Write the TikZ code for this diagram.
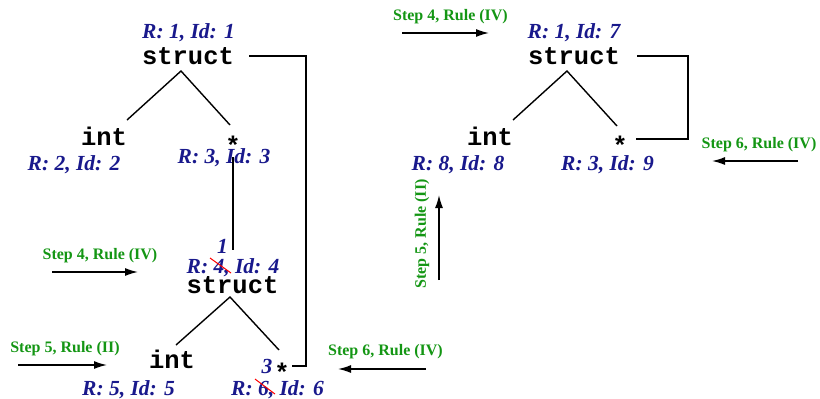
\documentclass[tikz,border=0pt]{standalone}
\usepackage{fontspec}
\setmainfont{Liberation Serif}
\newfontfamily\cour{Liberation Mono}
\usetikzlibrary{arrows.meta}
\definecolor{myblue}{RGB}{25,25,140}
\definecolor{mygreen}{RGB}{20,150,20}
\tikzset{
  lab/.style={font=\fontsize{21.5}{22}\selectfont\bfseries\itshape, text=myblue, anchor=base, inner sep=0},
  ty/.style={font=\cour\fontsize{25.5}{26}\selectfont\bfseries, anchor=base, inner sep=0},
  gr/.style={font=\fontsize{16}{17}\selectfont\bfseries, text=mygreen, anchor=base, inner sep=0},
  edge/.style={line width=1.4pt},
  stepar/.style={line width=1.5pt, -{Latex[length=13pt,width=8pt]}},
  strike/.style={red, line width=1pt}
}
\begin{document}
\begin{tikzpicture}[x=1pt,y=-1pt]
\useasboundingbox (0,0) rectangle (820,399);
% ---- left tree
\node[lab] (l1) at (188.5,38) {R: 1, Id: 1};
\node[ty] (s1) at (188,64) {struct};
\node[ty] (i1) at (104,145) {int};
\node[lab] (l2) at (74,170) {R: 2, Id: 2};
\node[ty] (p1) at (233,154) {*};
\node[lab] (l3) at (224,163) {R: 3, Id: 3};
\coordinate (a1) at (181,71);
\coordinate (e1) at (127,120);
\coordinate (e2) at (230,125);
\draw[edge] (e1) -- (a1) -- (e2);
\coordinate (v1) at (233,157);
\coordinate (v2) at (233,250);
\draw[edge] (v1) -- (v2);
\node[lab] (n1) at (222.5,253) {1};
\node[lab] (l4) at (233,273) {R: 4, Id: 4};
\coordinate (r1a) at (210,258);
\coordinate (r1b) at (231,273);
\draw[strike] (r1a) -- (r1b);
\node[ty] (s2) at (232.5,293) {struct};
\coordinate (a2) at (230,297);
\coordinate (e3) at (176,345);
\coordinate (e4) at (279,350);
\draw[edge] (e3) -- (a2) -- (e4);
\node[ty] (i2) at (172,368) {int};
\node[lab] (l5) at (128.5,395) {R: 5, Id: 5};
\node[lab] (n3) at (267,373) {3};
\node[ty] (p2) at (282,381) {*};
\node[lab] (l6) at (277.5,395) {R: 6, Id: 6};
\coordinate (r2a) at (255,379);
\coordinate (r2b) at (275,394);
\draw[strike] (r2a) -- (r2b);
\coordinate (k1) at (249,56);
\coordinate (k2) at (306,56);
\coordinate (k3) at (306,366);
\coordinate (k4) at (292,366);
\draw[edge] (k1) -- (k2) -- (k3) -- (k4);
% ---- green steps
\node[gr] (g1) at (100,259) {Step 4, Rule (IV)};
\coordinate (g1a) at (52,272); \coordinate (g1b) at (138,272);
\draw[stepar] (g1a) -- (g1b);
\node[gr] (g2) at (65,352) {Step 5, Rule (II)};
\coordinate (g2a) at (18,365); \coordinate (g2b) at (107,365);
\draw[stepar] (g2a) -- (g2b);
\node[gr] (g3) at (385.5,355) {Step 6, Rule (IV)};
\coordinate (g3a) at (426,369); \coordinate (g3b) at (338,369);
\draw[stepar] (g3a) -- (g3b);
\node[gr] (g4) at (450.5,20) {Step 4, Rule (IV)};
\coordinate (g4a) at (402,33); \coordinate (g4b) at (489,33);
\draw[stepar] (g4a) -- (g4b);
\node[gr] (g5) at (759,148) {Step 6, Rule (IV)};
\coordinate (g5a) at (798,161); \coordinate (g5b) at (712,161);
\draw[stepar] (g5a) -- (g5b);
\node[gr, anchor=center, rotate=90] (g6) at (422,234) {Step 5, Rule (II)};
\coordinate (g6a) at (439,280); \coordinate (g6b) at (439,195);
\draw[stepar] (g6a) -- (g6b);
% ---- right tree
\node[lab] (l7) at (574,38) {R: 1, Id: 7};
\node[ty] (s3) at (574,64) {struct};
\coordinate (a3) at (567,71);
\coordinate (e5) at (513,120);
\coordinate (e6) at (617,126);
\draw[edge] (e5) -- (a3) -- (e6);
\node[ty] (i3) at (490,145) {int};
\node[ty] (p3) at (620,154) {*};
\node[lab] (l8) at (458,170) {R: 8, Id: 8};
\node[lab] (l9) at (607.5,170) {R: 3, Id: 9};
\coordinate (k5) at (637,56);
\coordinate (k6) at (688,56);
\coordinate (k7) at (688,139);
\coordinate (k8) at (636,139);
\draw[edge] (k5) -- (k6) -- (k7) -- (k8);
\end{tikzpicture}
\end{document}
